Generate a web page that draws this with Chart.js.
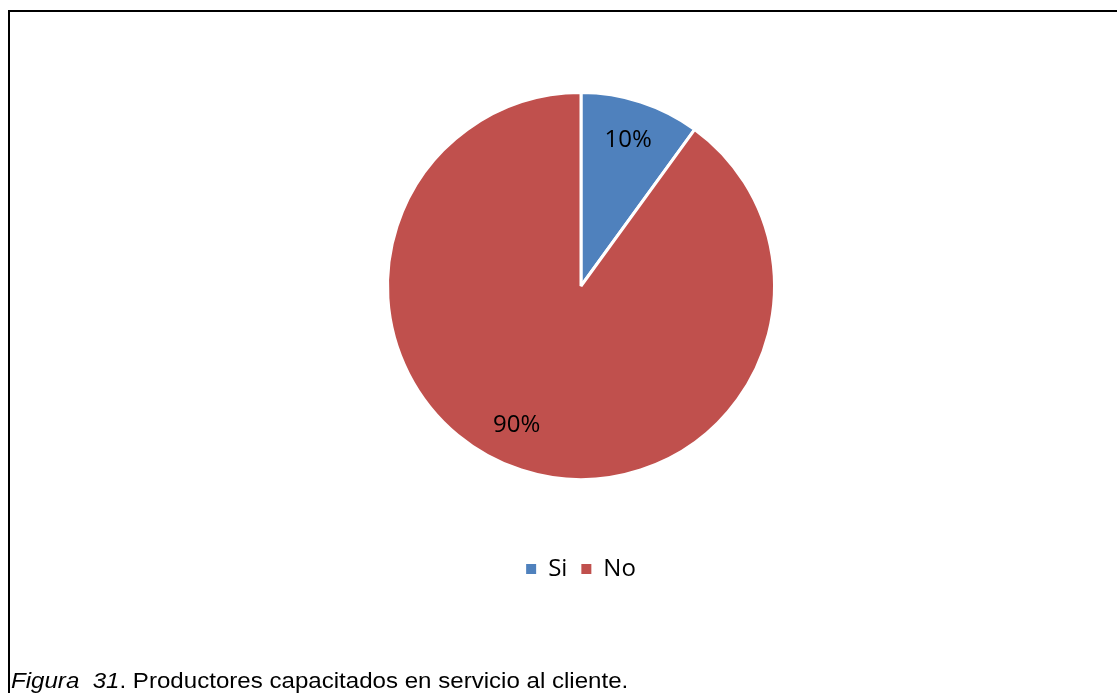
<!DOCTYPE html>
<html>
<head>
<meta charset="utf-8">
<script src="https://cdn.jsdelivr.net/npm/chart.js@4/dist/chart.umd.min.js"></script>
<style>
  body { margin: 0; background: #fff; overflow: hidden; }
  #frame {
    position: absolute; left: 8px; top: 10px; width: 1109px; height: 683px;
    border-top: 2px solid #000; border-left: 2px solid #000; box-sizing: border-box;
  }
  #wrap { position: absolute; left: 0; top: 0; width: 1117px; height: 693px; }
  #caption {
    position: absolute; left: 11px; top: 668px; white-space: nowrap;
    font-family: "Liberation Sans", Arial, sans-serif; font-size: 22px; color: #000;
    transform-origin: 0 0; transform: scaleX(1.095);
  }
</style>
</head>
<body>
<div id="frame"></div>
<div id="wrap"><canvas id="pieChart"></canvas></div>
<div id="caption"><i>Figura&nbsp; 31</i>. Productores capacitados en servicio al cliente.</div>
<script>
var categories = ['Si', 'No'];
var values = [10, 90];
var sliceColors = ['#4F81BD', '#C0504D'];

// etiquetas de porcentaje dentro de cada sector
var pctLabels = {
  id: 'pctLabels',
  afterDatasetsDraw: function(chart) {
    var ctx = chart.ctx;
    var meta = chart.getDatasetMeta(0);
    var total = values.reduce(function(a, b) { return a + b; }, 0);
    ctx.save();
    ctx.font = '24px "Open Sans", sans-serif';
    ctx.fillStyle = '#000';
    ctx.textAlign = 'center';
    ctx.textBaseline = 'middle';
    meta.data.forEach(function(arc, i) {
      var p = arc.getProps(['x', 'y', 'startAngle', 'endAngle', 'outerRadius'], true);
      var mid = (p.startAngle + p.endAngle) / 2;
      // el sector grande lleva la etiqueta algo girada (como en Excel)
      if (i === 1) mid += 0.12;
      var r = p.outerRadius * 0.79;
      var txt = Math.round(values[i] / total * 100) + '%';
      ctx.fillText(txt, p.x + Math.cos(mid) * r, p.y + Math.sin(mid) * r);
    });
    ctx.restore();
  }
};

new Chart(document.getElementById('pieChart').getContext('2d'), {
  type: 'pie',
  data: {
    labels: categories,
    datasets: [{
      data: values,
      backgroundColor: sliceColors,
      borderColor: '#fff',
      borderWidth: 3
    }]
  },
  options: {
    responsive: true,
    maintainAspectRatio: false,
    animation: false,
    layout: { padding: { left: 386, right: 341, top: 29, bottom: 102 } },
    plugins: {
      legend: {
        position: 'bottom',
        labels: {
          boxWidth: 10,
          boxHeight: 10,
          padding: 14,
          color: '#000',
          font: { family: '"Open Sans", sans-serif', size: 24 },
          generateLabels: function(chart) {
            var items = Chart.controllers.pie.overrides.plugins.legend.labels.generateLabels(chart);
            items.forEach(function(it) { it.lineWidth = 0; it.strokeStyle = it.fillStyle; });
            return items;
          }
        }
      },
      tooltip: { enabled: false }
    }
  },
  plugins: [pctLabels]
});
</script>
</body>
</html>
